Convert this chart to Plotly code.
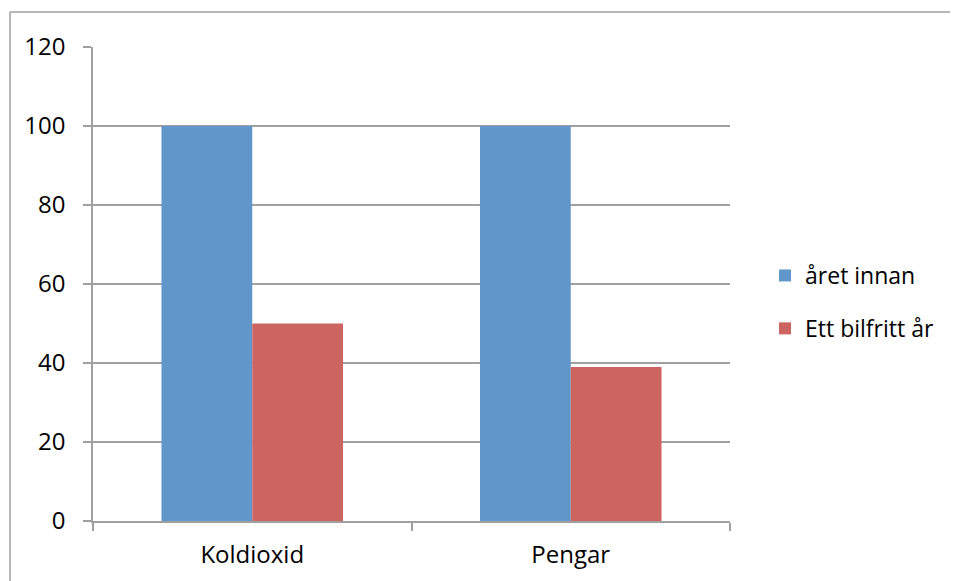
import plotly.graph_objects as go

categories = ["Koldioxid", "Pengar"]
series_names = ["året innan", "Ett bilfritt år"]
values_before = [100, 100]
values_carfree = [50, 39]
y_ticks = [0, 20, 40, 60, 80, 100, 120]

blue = "#6096CA"
red = "#CC6560"
grey = "#A0A0A0"
font_family = "Open Sans, Noto Sans, sans-serif"

fig = go.Figure()
fig.add_trace(go.Bar(x=categories, y=values_before, name=series_names[0],
                     marker=dict(color=blue, line=dict(width=0)), legendgroup="a"))
fig.add_trace(go.Bar(x=categories, y=values_carfree, name=series_names[1],
                     marker=dict(color=red, line=dict(width=0)), legendgroup="b"))

fig.update_layout(
    width=950, height=573,
    margin=dict(l=85, r=228, t=39, b=60),
    paper_bgcolor="white", plot_bgcolor="white",
    barmode="group", bargap=0.43, bargroupgap=0,
    font=dict(family=font_family, size=23, color="black"),
    legend=dict(x=1.055, y=0.462, xanchor="left", yanchor="middle",
                font=dict(size=23), tracegroupgap=20, itemwidth=30,
                bgcolor="rgba(0,0,0,0)"),
    showlegend=True,
)
fig.update_xaxes(
    showline=True, linecolor=grey, linewidth=1.5,
    ticks="outside", ticklen=8, tickcolor=grey, tickwidth=1.5,
    tickson="boundaries", showgrid=False,
    tickfont=dict(size=24), ticklabelstandoff=11,
)
fig.update_yaxes(
    range=[0, 120], tickvals=y_ticks,
    showline=True, linecolor=grey, linewidth=1.5,
    ticks="outside", ticklen=8, tickcolor=grey, tickwidth=1.5,
    showgrid=True, gridcolor=grey, gridwidth=1.5,
    zeroline=False, ticklabelstandoff=13,
    tickfont=dict(size=24),
)
# outer chart-area border (only top and left edges fall inside the picture)
fig.add_shape(type="line", xref="paper", yref="paper",
              x0=-0.1303, x1=1.5, y0=1.0738, y1=1.0738,
              line=dict(color=grey, width=1.5), layer="below")
fig.add_shape(type="line", xref="paper", yref="paper",
              x0=-0.1303, x1=-0.1303, y0=-0.3, y1=1.0738,
              line=dict(color=grey, width=1.5), layer="below")

fig.write_html("out.html")
